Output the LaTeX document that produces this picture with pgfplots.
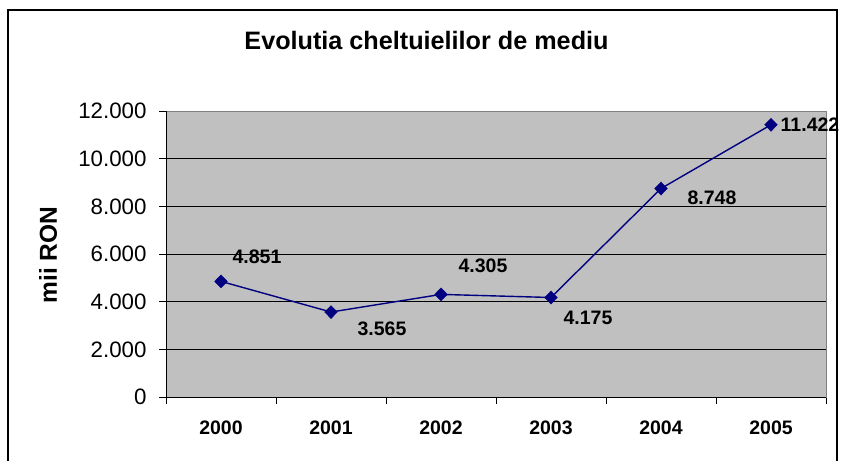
\documentclass[border=0pt]{standalone}
\usepackage{fontspec}
\setmainfont{Liberation Sans}
\usepackage{pgfplots}
\usepackage{pgfplotstable}
\pgfplotsset{compat=1.18}
\definecolor{navy}{HTML}{000080}
\definecolor{plotbg}{HTML}{C0C0C0}
\pgfplotstableread{
x y dx dy lab
0 4851 36 25 4.851
1 3565 51 -17 3.565
2 4305 42 29 4.305
3 4175 37 -20 4.175
4 8748 51 -9 8.748
5 11422 39 0 11.422
}\datatable
\begin{document}
\begin{tikzpicture}
\path (0pt,0pt) rectangle (845pt,461pt);
\draw[line width=1.2pt] (8pt,0pt) -- (8pt,451pt) -- (837pt,451pt) -- (837pt,0pt);
\node[font=\bfseries\fontsize{25.2}{28}\selectfont, anchor=base] at (426.5pt,412pt) {Evolutia cheltuielilor de mediu};
\node[font=\bfseries\fontsize{24.5}{28}\selectfont, rotate=90, anchor=center] at (48pt,206pt) {mii RON};
\begin{axis}[
  at={(166pt,64pt)}, anchor=south west,
  scale only axis, width=660pt, height=286pt,
  xmin=-0.5, xmax=5.5, ymin=0, ymax=12000,
  axis background/.style={fill=plotbg},
  axis line style={draw=gray, line width=0.8pt},
  xtick={-0.5,0.5,...,5.5}, xticklabels={},
  extra x ticks={0,1,2,3,4,5},
  extra x tick labels={2000,2001,2002,2003,2004,2005},
  extra x tick style={major tick length=0pt},
  ytick={0,2000,...,12000},
  xtick pos=bottom, ytick pos=left,
  ymajorgrids,
  major grid style={black, line width=0.7pt},
  tick align=outside, major tick length=7pt,
  tick style={black, line width=0.8pt},
  xticklabel style={font=\bfseries\fontsize{19.5}{22}\selectfont, yshift=-20pt},
  yticklabel style={font=\fontsize{22.3}{24}\selectfont, xshift=-9pt},
  /pgf/number format/.cd, 1000 sep={.}, assume math mode=true,
  /pgfplots/.cd,
  scaled y ticks=false,
  clip=false,
]
\addplot[color=navy, line width=1.4pt, mark=diamond*,
  mark size=6.5pt, mark options={solid, line width=0.4pt, xscale=1.3},
  visualization depends on={\thisrow{dx}\as\dx},
  visualization depends on={\thisrow{dy}\as\dy},
  nodes near coords, point meta=explicit symbolic,
  nodes near coords style={anchor=center, xshift=\dx pt, yshift=\dy pt, text=black,
     font=\bfseries\fontsize{19.5}{22}\selectfont}]
  table[x=x, y=y, meta=lab] {\datatable};
\draw[black, line width=0.9pt] (rel axis cs:0,1) -- (rel axis cs:0,0) -- (rel axis cs:1,0);
\end{axis}
\end{tikzpicture}
\end{document}
